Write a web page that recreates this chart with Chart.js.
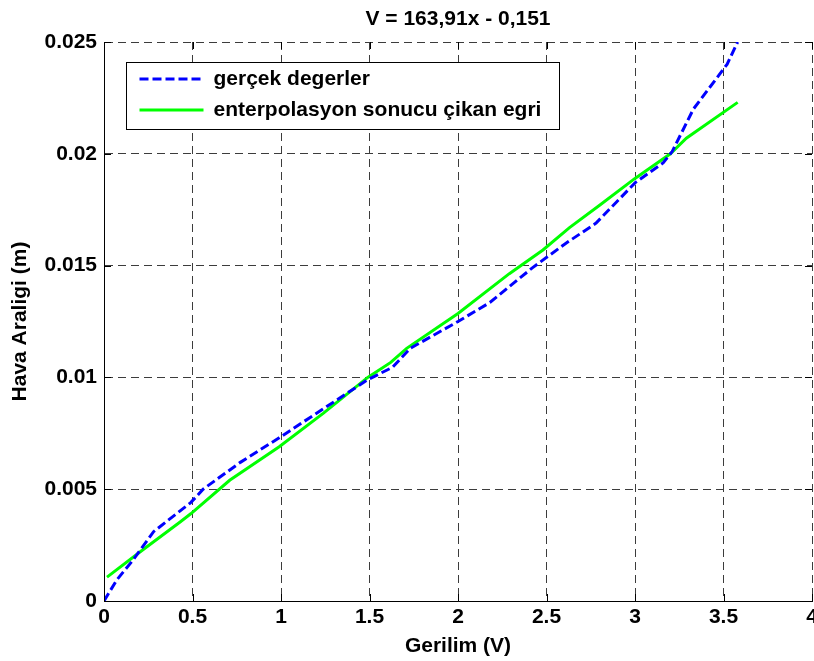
<!DOCTYPE html>
<html>
<head>
<meta charset="utf-8">
<script src="https://cdn.jsdelivr.net/npm/chart.js@4.4.1/dist/chart.umd.min.js"></script>
<style>
    html, body { margin: 0; padding: 0; background: #ffffff; }
</style>
</head>
<body>
<canvas id="chart" width="814" height="661"></canvas>
<script>
// measured curve ("gerçek degerler")
const realV = [0, 0.072, 0.164, 0.28, 0.49, 0.56, 0.77, 0.99, 1.24, 1.49, 1.63, 1.73, 2.0, 2.18, 2.42, 2.61, 2.78, 3.0, 3.16, 3.21, 3.33, 3.52, 3.58];
const realGap = [0, 0.00094, 0.00183, 0.0031, 0.0044, 0.0050, 0.0062, 0.0073, 0.0086, 0.0099, 0.01045, 0.0113, 0.0125, 0.01335, 0.0149, 0.0160, 0.0169, 0.0187, 0.0196, 0.0201, 0.0220, 0.0240, 0.0250];

// fitted curve ("enterpolasyon sonucu çikan egri")
const fitV = [0.017, 0.203, 0.43, 0.49, 0.71, 0.99, 1.24, 1.49, 1.62, 1.71, 2.0, 2.29, 2.48, 2.63, 2.80, 3.0, 3.20, 3.29, 3.58];
const fitGap = [0.00107, 0.00219, 0.00353, 0.0039, 0.0054, 0.0069, 0.0084, 0.0100, 0.01067, 0.0113, 0.01286, 0.01464, 0.0157, 0.0167, 0.0177, 0.0189, 0.0200, 0.0207, 0.0223];

const xTicks = [0, 0.5, 1, 1.5, 2, 2.5, 3, 3.5, 4];
const yTicks = [0, 0.005, 0.01, 0.015, 0.02, 0.025];

const FONT = "'Liberation Sans', Arial, Helvetica, sans-serif";

const toPoints = (xs, ys) => xs.map((x, i) => ({ x: x, y: ys[i] }));

// MATLAB style inward tick marks on all four sides
const innerTicks = {
    id: "innerTicks",
    afterDatasetsDraw(chart) {
        const { ctx, chartArea: a, scales } = chart;
        const len = 7;
        ctx.save();
        ctx.strokeStyle = "#000000";
        ctx.lineWidth = 1;
        ctx.beginPath();
        xTicks.forEach(v => {
            const px = Math.round(scales.x.getPixelForValue(v)) + 0.5;
            ctx.moveTo(px, a.bottom); ctx.lineTo(px, a.bottom - len);
            ctx.moveTo(px, a.top); ctx.lineTo(px, a.top + len);
        });
        yTicks.forEach(v => {
            const py = Math.round(scales.y.getPixelForValue(v)) + 0.5;
            ctx.moveTo(a.left, py); ctx.lineTo(a.left + len, py);
            ctx.moveTo(a.right, py); ctx.lineTo(a.right - len, py);
        });
        ctx.stroke();
        ctx.restore();
    }
};

// boxed legend drawn inside the axes, top-left
const boxLegend = {
    id: "boxLegend",
    afterDraw(chart) {
        const { ctx, chartArea: a } = chart;
        const left = Math.round(a.left) + 22.5;
        const top = Math.round(a.top) + 20.5;
        const w = 433, h = 67;
        ctx.save();
        ctx.fillStyle = "#ffffff";
        ctx.fillRect(left, top, w, h);
        ctx.strokeStyle = "#000000";
        ctx.lineWidth = 1;
        ctx.strokeRect(left, top, w, h);
        ctx.font = "bold 21px " + FONT;
        ctx.textBaseline = "middle";
        ctx.textAlign = "left";
        chart.data.datasets.forEach((ds, i) => {
            const y = top + 16.5 + i * 31;
            ctx.beginPath();
            ctx.strokeStyle = ds.borderColor;
            ctx.lineWidth = ds.borderWidth;
            ctx.setLineDash(ds.borderDash || []);
            ctx.moveTo(left + 13, y);
            ctx.lineTo(left + 77, y);
            ctx.stroke();
            ctx.setLineDash([]);
            ctx.fillStyle = "#000000";
            ctx.fillText(ds.label, left + 87, y);
        });
        ctx.restore();
    }
};

new Chart(document.getElementById("chart"), {
    type: "line",
    data: {
        datasets: [
            {
                label: "gerçek degerler",
                data: toPoints(realV, realGap),
                borderColor: "#0000ff",
                borderWidth: 3,
                borderDash: [9, 4],
                pointRadius: 0,
                tension: 0,
                fill: false
            },
            {
                label: "enterpolasyon sonucu çikan egri",
                data: toPoints(fitV, fitGap),
                borderColor: "#00ff00",
                borderWidth: 3,
                pointRadius: 0,
                tension: 0,
                fill: false
            }
        ]
    },
    options: {
        responsive: false,
        animation: false,
        layout: { padding: { top: 0, left: 0, right: 2, bottom: 0 } },
        plugins: {
            legend: { display: false },
            tooltip: { enabled: false },
            title: {
                display: true,
                text: "V = 163,91x - 0,151",
                color: "#000000",
                fullSize: false,
                font: { family: FONT, size: 21, weight: "bold" },
                padding: { top: 7, bottom: 9.8 }
            }
        },
        scales: {
            x: {
                type: "linear",
                min: 0,
                max: 4,
                afterBuildTicks: s => { s.ticks = xTicks.map(v => ({ value: v })); },
                afterFit: s => { s.height = 60; s.paddingLeft = 0; s.paddingRight = 0; },
                ticks: {
                    color: "#000000",
                    padding: 4,
                    maxRotation: 0,
                    autoSkip: false,
                    font: { family: FONT, size: 21, weight: "bold" },
                    callback: v => String(v)
                },
                grid: { color: "#3c3c3c", lineWidth: 1, drawTicks: false },
                border: { display: true, color: "#000000", width: 1, dash: [8, 5] },
                title: {
                    display: true,
                    text: "Gerilim (V)",
                    color: "#000000",
                    padding: 2,
                    font: { family: FONT, size: 21, weight: "bold" }
                }
            },
            y: {
                type: "linear",
                min: 0,
                max: 0.025,
                afterBuildTicks: s => { s.ticks = yTicks.map(v => ({ value: v })); },
                afterFit: s => { s.width = 104; s.paddingTop = 0; s.paddingBottom = 0; },
                ticks: {
                    color: "#000000",
                    padding: 7,
                    autoSkip: false,
                    font: { family: FONT, size: 21, weight: "bold" },
                    callback: v => String(v)
                },
                grid: { color: "#3c3c3c", lineWidth: 1, drawTicks: false },
                border: { display: true, color: "#000000", width: 1, dash: [8, 5] },
                title: {
                    display: true,
                    text: "Hava Araligi (m)",
                    color: "#000000",
                    padding: 8,
                    font: { family: FONT, size: 21, weight: "bold" }
                }
            }
        }
    },
    plugins: [innerTicks, boxLegend]
});
</script>
</body>
</html>
